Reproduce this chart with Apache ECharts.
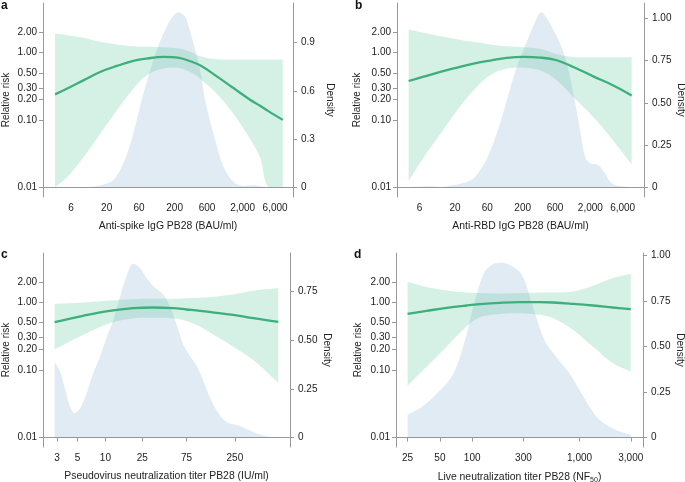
<!DOCTYPE html>
<html><head><meta charset="utf-8">
<script src="https://cdn.jsdelivr.net/npm/echarts@6/dist/echarts.min.js"></script>
<style>html,body{margin:0;padding:0;background:#fff}#c{width:685px;height:482px}</style>
</head><body><div id="c"></div>
<script>
// ---------------- data ----------------
const riskTicks = [0.01, 0.1, 0.2, 0.3, 0.5, 1, 2];
const riskTickLabels = ['0.01', '0.10', '0.20', '0.30', '0.50', '1.00', '2.00'];

// panel a : Anti-spike IgG
const aXTicks = [6, 20, 60, 200, 600, 2000, 6000];
const aXTickLabels = ['6', '20', '60', '200', '600', '2,000', '6,000'];
const aBandX = [3.49, 5.19, 9.10, 16.0, 28.2, 49.4, 77.8, 136.5, 232, 337, 473, 834, 1462, 2570, 3606, 4780, 7780];
const aUpper = [1.92, 1.81, 1.66, 1.44, 1.32, 1.24, 1.215, 1.20, 1.147, 1.023, 0.882, 0.795, 0.787, 0.787, 0.787, 0.787, 0.787];
const aLower = [0.01, 0.0139, 0.0277, 0.0618, 0.138, 0.290, 0.459, 0.577, 0.590, 0.515, 0.409, 0.244, 0.123, 0.052, 0.0277, 0.01, 0.01];
const aRisk = [0.239, 0.290, 0.386, 0.515, 0.632, 0.751, 0.814, 0.861, 0.832, 0.743, 0.647, 0.443, 0.297, 0.199, 0.162, 0.135, 0.100];
const aDensX = [3.49, 9.10, 16.0, 25.1, 33.4, 41.8, 49.4, 65.6, 82.2, 109, 153, 192, 232, 269, 301, 378, 473, 561, 743, 1042, 1462, 2051, 2877, 4036, 7780];
const aDens = [0, 0.002, 0.012, 0.046, 0.129, 0.232, 0.336, 0.544, 0.689, 0.855, 1.000, 1.067, 1.089, 1.073, 1.042, 0.896, 0.730, 0.544, 0.336, 0.129, 0.035, 0.010, 0.015, 0.004, 0];
const aDensTicks = [0, 0.3, 0.6, 0.9];
const aDensTickLabels = ['0', '0.3', '0.6', '0.9'];

// panel b : Anti-RBD IgG
const bXTicks = [6, 20, 60, 200, 600, 2000, 6000];
const bXTickLabels = ['6', '20', '60', '200', '600', '2,000', '6,000'];
const bBandX = [4.13, 6.87, 12.1, 21.4, 37.5, 66.2, 117, 205, 361, 637, 1120, 2208, 4357, 8140];
const bUpper = [2.20, 1.97, 1.75, 1.58, 1.44, 1.32, 1.24, 1.20, 1.134, 0.944, 0.862, 0.852, 0.852, 0.852];
const bLower = [0.0124, 0.0277, 0.0618, 0.138, 0.274, 0.459, 0.577, 0.597, 0.545, 0.386, 0.218, 0.110, 0.0491, 0.0220];
const bRisk = [0.378, 0.438, 0.515, 0.597, 0.685, 0.760, 0.832, 0.861, 0.842, 0.768, 0.611, 0.443, 0.325, 0.231];
const bDensX = [4.13, 8.63, 12.1, 19.0, 30.0, 37.5, 47.1, 59.1, 83.1, 117, 164, 205, 258, 324, 374, 454, 568, 713, 895, 1120, 1406, 1667, 1977, 2620, 3289, 3899, 4898, 8140];
const bDens = [0, 0.006, 0.002, 0.014, 0.032, 0.053, 0.103, 0.168, 0.319, 0.517, 0.714, 0.812, 0.911, 1.000, 1.035, 1.000, 0.931, 0.852, 0.734, 0.556, 0.339, 0.181, 0.142, 0.132, 0.083, 0.034, 0.010, 0];
const bDensTicks = [0, 0.25, 0.5, 0.75, 1];
const bDensTickLabels = ['0', '0.25', '0.50', '0.75', '1.00'];

// panel c : Pseudovirus neutralization
const cXTicks = [3, 5, 10, 25, 75, 250];
const cXTickLabels = ['3', '5', '10', '25', '75', '250'];
const cBandX = [2.83, 5.73, 11.1, 19.9, 32.8, 53.9, 75.2, 105, 159, 240, 395, 735];
const cUpper = [0.945, 0.989, 1.058, 1.108, 1.12, 1.12, 1.146, 1.159, 1.213, 1.299, 1.472, 1.612];
const cLower = [0.201, 0.328, 0.489, 0.573, 0.586, 0.573, 0.529, 0.436, 0.310, 0.220, 0.140, 0.0645];
const cRisk = [0.506, 0.628, 0.744, 0.815, 0.834, 0.815, 0.779, 0.744, 0.695, 0.649, 0.579, 0.511];
const cDensX = [2.83, 3.21, 3.63, 4.11, 4.66, 5.28, 6.24, 7.35, 8.69, 10.3, 12.1, 14.3, 16.9, 19.9, 23.5, 27.7, 32.8, 42.0, 49.5, 58.6, 69.0, 81.6, 96.4, 114, 134, 159, 203, 283, 395, 551, 735];
const cDens = [0.386, 0.343, 0.258, 0.165, 0.126, 0.148, 0.224, 0.326, 0.411, 0.513, 0.598, 0.717, 0.828, 0.891, 0.870, 0.819, 0.777, 0.734, 0.675, 0.581, 0.479, 0.420, 0.369, 0.292, 0.207, 0.139, 0.080, 0.060, 0.029, 0.007, 0];
const cDensTicks = [0, 0.25, 0.5, 0.75];
const cDensTickLabels = ['0', '0.25', '0.50', '0.75'];

// panel d : Live neutralization
const dXTicks = [25, 50, 100, 300, 1000, 3000];
const dXTickLabels = ['25', '50', '100', '300', '1,000', '3,000'];
const dBandX = [25, 37.6, 57.7, 88.5, 118, 181, 278, 427, 568, 871, 1337, 2051, 3000];
const dUpper = [1.98, 1.67, 1.49, 1.39, 1.36, 1.34, 1.36, 1.39, 1.39, 1.44, 1.75, 2.27, 2.63];
const dLower = [0.0583, 0.111, 0.220, 0.436, 0.600, 0.671, 0.687, 0.649, 0.579, 0.389, 0.220, 0.125, 0.094];
const dRisk = [0.671, 0.744, 0.824, 0.893, 0.934, 0.977, 1.0, 1.0, 0.989, 0.945, 0.893, 0.834, 0.788];
const dDensX = [25, 33.8, 50.0, 66.5, 85.5, 102, 127, 151, 181, 216, 288, 369, 474, 610, 811, 1005, 1245, 1545, 2208, 3000];
const dDens = [0.126, 0.168, 0.259, 0.350, 0.533, 0.715, 0.898, 0.949, 0.962, 0.953, 0.898, 0.715, 0.533, 0.442, 0.350, 0.259, 0.168, 0.095, 0.040, 0.016];
const dDensTicks = [0, 0.25, 0.5, 0.75, 1];
const dDensTickLabels = ['0', '0.25', '0.50', '0.75', '1.00'];

const xTitles = ['Anti-spike IgG PB28 (BAU/ml)', 'Anti-RBD IgG PB28 (BAU/ml)',
  'Pseudovirus neutralization titer PB28 (IU/ml)', '{n|Live neutralization titer PB28 (NF}{s|50}{n|)}'];
const panelLetters = ['a', 'b', 'c', 'd'];

// ---------------- styling / layout ----------------
const FONT = '"Liberation Sans", Arial, Helvetica, sans-serif';
const TXT = '#222';
const AXC = '#999';
const BAND = 'rgba(92,196,154,0.26)';
const DENS = 'rgba(83,143,191,0.25)';
const LINE = '#3daf7a';

const panels = [
  {band: [aBandX, aLower, aUpper, aRisk], dens: [aDensX, aDens], xt: [aXTicks, aXTickLabels], dt: [aDensTicks, aDensTickLabels],
   grid: {left: 43, top: 3, width: 250, height: 194}, xr: [2.32, 11000], yr: [0.00716, 5.44], dr: [-0.06, 1.147], xtick: false, lgap: 32},
  {band: [bBandX, bLower, bUpper, bRisk], dens: [bDensX, bDens], xt: [bXTicks, bXTickLabels], dt: [bDensTicks, bDensTickLabels],
   grid: {left: 397, top: 3, width: 247, height: 194}, xr: [2.78, 12400], yr: [0.00716, 5.44], dr: [-0.0574, 1.09], xtick: false, lgap: 35},
  {band: [cBandX, cLower, cUpper, cRisk], dens: [cDensX, cDens], xt: [cXTicks, cXTickLabels], dt: [cDensTicks, cDensTickLabels],
   grid: {left: 43, top: 253, width: 247, height: 194}, xr: [2.12, 984], yr: [0.00726, 5.32], dr: [-0.048, 0.946], xtick: true, lgap: 32},
  {band: [dBandX, dLower, dUpper, dRisk], dens: [dDensX, dDens], xt: [dXTicks, dXTickLabels], dt: [dDensTicks, dDensTickLabels],
   grid: {left: 396, top: 253, width: 247, height: 194}, xr: [19.5, 3900], yr: [0.00726, 5.32], dr: [-0.052, 1.015], xtick: true, lgap: 33}
];

function lookup(vals, labels) {
  return function (v) {
    for (let i = 0; i < vals.length; i++) {
      const t = vals[i];
      if (Math.abs(v - t) <= 1e-6 * Math.max(Math.abs(t), 1e-3)) return labels[i];
    }
    return '';
  };
}

const grids = [], xAxes = [], yAxes = [], series = [], graphics = [];
panels.forEach(function (p, i) {
  grids.push(Object.assign({outerBoundsMode: 'none', containLabel: false}, p.grid));
  xAxes.push({
    type: 'log', logBase: 10, gridIndex: i, min: p.xr[0], max: p.xr[1],
    axisLine: {show: true, lineStyle: {color: AXC, width: 1}},
    axisTick: {show: p.xtick, customValues: p.xt[0], length: 4, inside: false, lineStyle: {color: AXC}},
    minorTick: {show: false}, splitLine: {show: false}, minorSplitLine: {show: false},
    axisLabel: {customValues: p.xt[0], formatter: lookup(p.xt[0], p.xt[1]), fontSize: 10, color: TXT, fontFamily: FONT, margin: 6},
    name: xTitles[i], nameLocation: 'middle', nameGap: 24,
    nameTextStyle: {fontSize: 10.4, color: TXT, fontFamily: FONT,
      rich: {n: {fontSize: 10.4, color: TXT, fontFamily: FONT}, s: {fontSize: 7, color: TXT, fontFamily: FONT, verticalAlign: 'bottom', padding: [6, 0, 0, 0]}}}
  });
  yAxes.push({
    type: 'log', logBase: 10, gridIndex: i, position: 'left', min: p.yr[0], max: p.yr[1],
    axisLine: {show: true, lineStyle: {color: AXC, width: 1}},
    axisTick: {show: true, customValues: riskTicks, length: 4, lineStyle: {color: AXC}},
    minorTick: {show: false}, splitLine: {show: false}, minorSplitLine: {show: false},
    axisLabel: {customValues: riskTicks, formatter: lookup(riskTicks, riskTickLabels), fontSize: 10, color: TXT, fontFamily: FONT, margin: 6},
    name: 'Relative risk', nameLocation: 'middle', nameRotate: 90, nameGap: p.lgap,
    nameTextStyle: {fontSize: 10, color: TXT, fontFamily: FONT}
  });
  yAxes.push({
    type: 'value', gridIndex: i, position: 'right', min: p.dr[0], max: p.dr[1],
    axisLine: {show: true, lineStyle: {color: AXC, width: 1}},
    axisTick: {show: true, customValues: p.dt[0], length: 4, lineStyle: {color: AXC}},
    splitLine: {show: false},
    axisLabel: {customValues: p.dt[0], formatter: lookup(p.dt[0], p.dt[1]), fontSize: 10, color: TXT, fontFamily: FONT, margin: 8},
    name: 'Density', nameLocation: 'middle', nameRotate: -90, nameGap: 32,
    nameTextStyle: {fontSize: 10, color: TXT, fontFamily: FONT}
  });

  const dx = p.dens[0], dy = p.dens[1];
  series.push({
    type: 'line', xAxisIndex: i, yAxisIndex: 2 * i + 1, z: 1, silent: true,
    data: dx.map(function (x, k) { return [x, dy[k]]; }),
    smooth: 0.35, symbol: 'none', lineStyle: {width: 0, opacity: 0}, areaStyle: {color: DENS, origin: 0}
  });

  const bx = p.band[0], lo = p.band[1], up = p.band[2], rk = p.band[3];
  series.push({
    type: 'custom', xAxisIndex: i, yAxisIndex: 2 * i, z: 2, silent: true,
    data: [[bx[0], up[0]]],
    renderItem: function (params, api) {
      const n = bx.length, pts = [];
      // corner points are repeated so the smoothing keeps the band's end edges straight
      for (let k = 0; k < n; k++) {
        const c = api.coord([bx[k], up[k]]);
        pts.push(c);
        if (k === 0 || k === n - 1) pts.push(c.slice());
      }
      for (let k = n - 1; k >= 0; k--) {
        const c = api.coord([bx[k], lo[k]]);
        pts.push(c);
        if (k === 0 || k === n - 1) pts.push(c.slice());
      }
      let x0 = Infinity, y0 = Infinity, x1 = -Infinity, y1 = -Infinity;
      pts.forEach(function (q) { x0 = Math.min(x0, q[0]); y0 = Math.min(y0, q[1]); x1 = Math.max(x1, q[0]); y1 = Math.max(y1, q[1]); });
      return {type: 'polygon', shape: {points: pts, smooth: 0.35, smoothConstraint: [[x0, y0], [x1, y1]]}, style: {fill: BAND}};
    }
  });
  series.push({
    type: 'line', xAxisIndex: i, yAxisIndex: 2 * i, z: 3, silent: true,
    data: bx.map(function (x, k) { return [x, rk[k]]; }),
    smooth: 0.4, symbol: 'none', lineStyle: {width: 2.3, color: LINE}
  });
});

const letterPos = [[1, 0], [355, 0], [1, 249], [354, 249]];
panelLetters.forEach(function (t, i) {
  graphics.push({type: 'text', left: letterPos[i][0], top: letterPos[i][1],
    style: {text: t, fontSize: 12, fontWeight: 'bold', fill: '#111', fontFamily: FONT}});
});

const chart = echarts.init(document.getElementById('c'), null, {renderer: 'canvas'});
chart.setOption({
  animation: false,
  backgroundColor: '#fff',
  grid: grids, xAxis: xAxes, yAxis: yAxes, series: series, graphic: graphics
});
</script></body></html>
